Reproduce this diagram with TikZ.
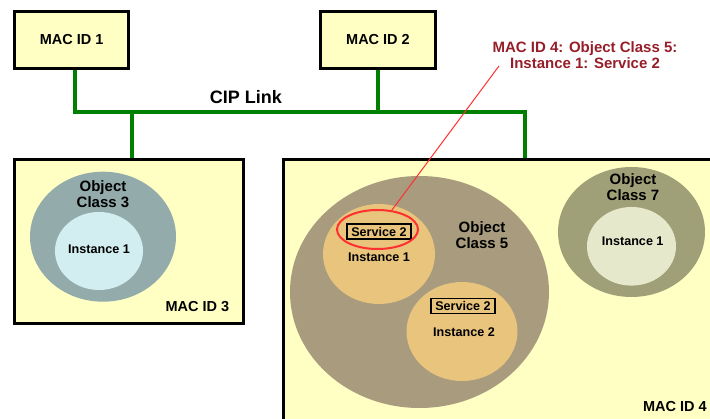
\documentclass[tikz,border=0pt]{standalone}
\usepackage{fontspec}
\setmainfont{Liberation Sans}
\usetikzlibrary{shapes.geometric}
\definecolor{boxfill}{RGB}{255,255,196}
\definecolor{cipgreen}{RGB}{0,128,0}
\definecolor{classthree}{RGB}{147,171,171}
\definecolor{instthree}{RGB}{210,238,240}
\definecolor{classfive}{RGB}{168,155,126}
\definecolor{instfive}{RGB}{232,196,124}
\definecolor{classseven}{RGB}{160,160,120}
\definecolor{instseven}{RGB}{230,232,204}
\definecolor{notered}{RGB}{150,30,40}
\definecolor{linkred}{RGB}{255,48,48}
\newcommand{\fsz}[1]{\fontsize{#1}{16}\selectfont\bfseries}
\newcommand{\macbox}[6]{\node[macnode,minimum width=#4,minimum height=#5] (#1) at ( #2 , #3 ) {#6};}
\newcommand{\blob}[6]{\node[blobnode,fill=#6,minimum width=#4,minimum height=#5] (#1) at ( #2 , #3 ) {};}
\newcommand{\lbl}[5]{\node[txt,font=\fsz{#4}] (#1) at ( #2 , #3 ) {#5};}
\tikzset{
  macnode/.style={draw=black,line width=3pt,fill=boxfill,inner sep=0pt,font=\fsz{14.5}},
  blobnode/.style={ellipse,draw=none,inner sep=0pt},
  txt/.style={inner sep=0pt,align=center},
  cipline/.style={cipgreen,line width=4pt},
  svcbox/.style={draw=black,line width=1.2pt,inner sep=0pt,minimum width=64,minimum height=15,font=\fsz{12.6}},
}

\begin{document}
\begin{tikzpicture}[x=1pt,y=-1pt]
\useasboundingbox (0,0) rectangle (710,419);
\clip (0,0) rectangle (710,419);
% devices on the link
\macbox{mac1}{71.7}{40}{114}{57}{MAC ID 1}
\macbox{mac2}{378}{40}{115}{57}{MAC ID 2}
\node[macnode,minimum width=229,minimum height=164] (mac3) at (129,241.5) {};
\node[macnode,minimum width=477,minimum height=311] (mac4) at (522,315) {};
% CIP link
\coordinate (busW) at (75,112);
\coordinate (busE) at (525,112);
\coordinate (tap3) at (132,112);
\draw[cipline] (mac1.south -| busW) -- (busW) -- (busE) -- (busE |- mac4.north);
\draw[cipline] (mac2.south) -- (mac2.south |- busW);
\draw[cipline] (tap3) -- (tap3 |- mac3.north);
\lbl{cip}{246}{97.5}{18}{CIP Link}
% MAC ID 3 contents
\blob{cls3}{103}{236.7}{146}{130}{classthree}
\blob{inst3}{99}{251}{88}{78}{instthree}
\lbl{obj3}{103}{194}{15}{Object\\Class 3}
\lbl{i3}{99}{249}{12.6}{Instance 1}
\node[txt,font=\fsz{14.5},anchor=east] (mac3lbl) at (229.5,306.7) {MAC ID 3};
% MAC ID 4 contents
\blob{cls5}{419.5}{292}{259}{232}{classfive}
\blob{inst51}{379}{254}{112}{100}{instfive}
\blob{inst52}{462}{331.5}{111}{99}{instfive}
\blob{cls7}{631.5}{232}{147}{130}{classseven}
\blob{inst7}{631.5}{246.3}{89}{78.6}{instseven}
\node[svcbox] (svc1) at (379,231.5) {Service 2};
\node[svcbox] (svc2) at (463,306) {Service 2};
\node[ellipse,draw=linkred,line width=2pt,minimum width=81,minimum height=39] (svcring) at (377.5,229.5) {};
\lbl{i51}{379}{257}{12.6}{Instance 1}
\lbl{i52}{464}{331.7}{12.6}{Instance 2}
\lbl{obj5}{482}{235.5}{15}{Object\\Class 5}
\lbl{obj7}{633}{187.5}{15}{Object\\Class 7}
\lbl{i7}{632.7}{241.7}{12.6}{Instance 1}
\node[txt,font=\fsz{14.5},anchor=east] (mac4lbl) at (707,407) {MAC ID 4};
% pointer to the service
\node[txt,font=\fsz{15},text=notered] (note) at (585,54.7) {MAC ID 4: Object Class 5:\\Instance 1: Service 2};
\coordinate (noteend) at (499,66);
\draw[linkred,line width=1pt] (noteend) -- (svcring);
\end{tikzpicture}
\end{document}
